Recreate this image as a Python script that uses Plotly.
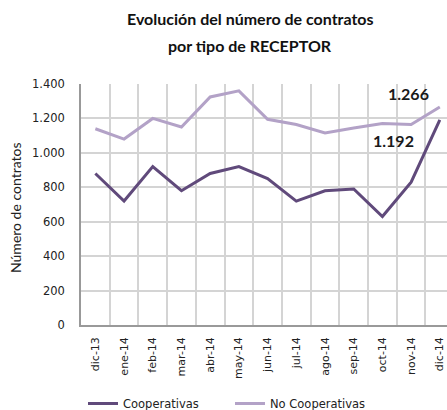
import plotly.graph_objects as go

meses = ["dic-13", "ene-14", "feb-14", "mar-14", "abr-14", "may-14", "jun-14",
         "jul-14", "ago-14", "sep-14", "oct-14", "nov-14", "dic-14"]
cooperativas = [880, 720, 920, 780, 880, 920, 850, 720, 780, 790, 630, 830, 1192]
no_cooperativas = [1140, 1080, 1200, 1150, 1325, 1360, 1195, 1165, 1115, 1145, 1170, 1165, 1266]

W, H = 447, 410
L, R, T, B = 81, 0, 84, 85
PW, PH = W - L - R, H - T - B

def px(x):
    return (x - L) / PW

def py(y):
    return (H - B - y) / PH

fig = go.Figure()
fig.add_trace(go.Scatter(x=meses, y=cooperativas, mode="lines", name="Cooperativas",
                         line=dict(color="#604A7B", width=3)))
fig.add_trace(go.Scatter(x=meses, y=no_cooperativas, mode="lines", name="No Cooperativas",
                         line=dict(color="#B3A2C7", width=3)))

fig.add_annotation(x=meses[-1], y=no_cooperativas[-1], text="<b>1.266</b>", showarrow=False,
                   xanchor="right", yanchor="middle", xshift=-9, yshift=14,
                   font=dict(size=16, color="#1a1a1a", family="Lato"))
fig.add_annotation(x=meses[-1], y=cooperativas[-1], text="<b>1.192</b>", showarrow=False,
                   xanchor="right", yanchor="middle", xshift=-24, yshift=-21,
                   font=dict(size=16, color="#1a1a1a", family="Lato"))

# title lines
fig.add_annotation(xref="paper", yref="paper", x=px(250), y=py(18), text="<b>Evolución del número de contratos</b>",
                   showarrow=False, xanchor="center", yanchor="middle",
                   font=dict(size=16, family="Lato", color="#111"))
fig.add_annotation(xref="paper", yref="paper", x=px(250), y=py(46), text="<b>por tipo de RECEPTOR</b>",
                   showarrow=False, xanchor="center", yanchor="middle",
                   font=dict(size=16, family="Lato", color="#111"))
# y axis title
fig.add_annotation(xref="paper", yref="paper", x=px(15), y=py(208), text="Número de contratos",
                   showarrow=False, xanchor="center", yanchor="middle", textangle=-90,
                   font=dict(size=14, family="Lato", color="#222"))

fig.update_layout(
    width=W, height=H,
    margin=dict(l=L, r=R, t=T, b=B, autoexpand=False),
    paper_bgcolor="white", plot_bgcolor="white",
    separators=",.",
    font=dict(family="DejaVu Sans", size=11, color="#222"),
    showlegend=True,
    legend=dict(orientation="h", x=px(83), xanchor="left", y=py(389), yanchor="top",
                font=dict(family="DejaVu Sans", size=11.5),
                entrywidth=102, entrywidthmode="pixels",
                traceorder="normal", bgcolor="rgba(0,0,0,0)"),
    xaxis=dict(type="category", range=[-0.5, 12.25], tickangle=-90, automargin=False,
               tickson="boundaries", ticks="", ticklabelstandoff=6,
               showgrid=True, gridcolor="#d4d4d4", gridwidth=1.5,
               showline=True, linecolor="#999", linewidth=1.5,
               tickfont=dict(size=11, family="DejaVu Sans")),
    yaxis=dict(range=[0, 1400], dtick=200, tickformat=",d", automargin=False,
               showgrid=True, gridcolor="#d4d4d4", gridwidth=1.5,
               showline=True, linecolor="#999", linewidth=1.5,
               ticks="", ticklabelstandoff=12,
               tickfont=dict(size=11.5, family="DejaVu Sans")),
)

fig.write_html("out.html", config={"displayModeBar": False},
               post_script="document.body.style.margin='0';")
